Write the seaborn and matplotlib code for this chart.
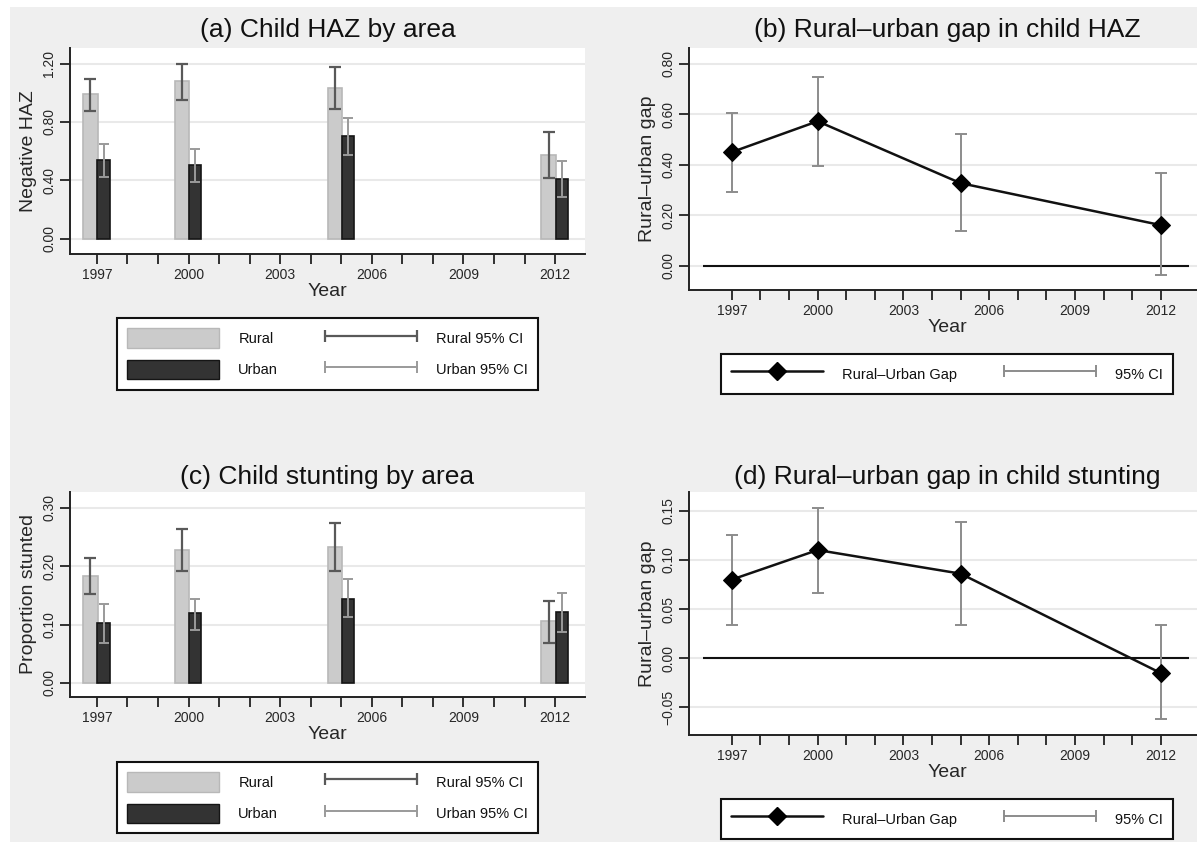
import numpy as np
import pandas as pd
import matplotlib
matplotlib.use("Agg")
import matplotlib.pyplot as plt
import seaborn as sns
from matplotlib.patches import Patch, Rectangle
from matplotlib.lines import Line2D
from matplotlib.legend_handler import HandlerLine2D

# -------------------------------
# Data
# -------------------------------
years = np.array([1997, 2000, 2005, 2012])

haz_rural = [0.990, 1.080, 1.035, 0.575]
haz_rural_lo = [0.875, 0.950, 0.887, 0.416]
haz_rural_hi = [1.095, 1.200, 1.177, 0.729]
haz_urban = [0.537, 0.505, 0.702, 0.409]
haz_urban_lo = [0.425, 0.386, 0.574, 0.283]
haz_urban_hi = [0.647, 0.615, 0.825, 0.533]

stunt_rural = [0.183, 0.227, 0.233, 0.106]
stunt_rural_lo = [0.152, 0.191, 0.191, 0.069]
stunt_rural_hi = [0.214, 0.263, 0.274, 0.141]
stunt_urban = [0.103, 0.119, 0.144, 0.121]
stunt_urban_lo = [0.069, 0.091, 0.113, 0.087]
stunt_urban_hi = [0.136, 0.143, 0.178, 0.154]

haz_gap = [0.450, 0.572, 0.327, 0.161]
haz_gap_lo = [0.293, 0.396, 0.137, -0.038]
haz_gap_hi = [0.606, 0.746, 0.523, 0.366]

stunt_gap = [0.080, 0.110, 0.086, -0.015]
stunt_gap_lo = [0.034, 0.0665, 0.034, -0.062]
stunt_gap_hi = [0.125, 0.153, 0.139, 0.034]

year_ticks = list(range(1997, 2013))
year_labels = [str(y) if (y - 1997) % 3 == 0 else "" for y in year_ticks]

haz_yticks = [0.0, 0.4, 0.8, 1.2]
haz_ylabels = ["0.00", "0.40", "0.80", "1.20"]
stunt_yticks = [0.0, 0.1, 0.2, 0.3]
stunt_ylabels = ["0.00", "0.10", "0.20", "0.30"]
hazgap_yticks = [0.0, 0.2, 0.4, 0.6, 0.8]
hazgap_ylabels = ["0.00", "0.20", "0.40", "0.60", "0.80"]
stuntgap_yticks = [-0.05, 0.0, 0.05, 0.10, 0.15]
stuntgap_ylabels = ["\u22120.05", "0.00", "0.05", "0.10", "0.15"]

# -------------------------------
# Style
# -------------------------------
sns.set_style("white")
plt.rcParams["font.family"] = ["Liberation Sans", "DejaVu Sans"]
plt.rcParams["text.color"] = "#111111"

BG = "#efefef"
RURAL = "#cbcbcb"
RURAL_EDGE = "#b8b8b8"
URBAN = "#333333"
URBAN_EDGE = "#151515"
RURAL_CI = "#595959"
URBAN_CI = "#9a9a9a"
GAP_CI = "#8c8c8c"

W, H = 1197, 842
fig = plt.figure(figsize=(W / 100, H / 100), dpi=100)
fig.patch.set_facecolor("white")
fig.patches.append(Rectangle((10 / W, 0), 1, (H - 7) / H, transform=fig.transFigure,
                             facecolor=BG, edgecolor="none", zorder=-10))


def make_axes(left, top, right, bottom):
    return fig.add_axes([left / W, 1 - bottom / H, (right - left) / W, (bottom - top) / H])


def style_axes(ax, yticks, ylabels, ylim, xlim, ylabel, title, pad):
    ax.set_facecolor("white")
    ax.set_xlim(*xlim)
    ax.set_ylim(*ylim)
    ax.set_xticks(year_ticks)
    ax.set_xticklabels(year_labels, fontsize=10)
    ax.set_yticks(yticks)
    ax.set_yticklabels(ylabels, fontsize=10, rotation=90, va="center")
    ax.tick_params(axis="both", which="major", bottom=True, left=True, length=7,
                   width=1.3, color="#222222", direction="out", pad=3)
    ax.yaxis.grid(True, color="#e9e9e9", lw=1.5)
    ax.xaxis.grid(False)
    ax.set_axisbelow(True)
    for s in ["top", "right"]:
        ax.spines[s].set_visible(False)
    for s in ["left", "bottom"]:
        ax.spines[s].set_color("#222222")
        ax.spines[s].set_linewidth(1.4)
    ax.set_xlabel("Year", fontsize=14, labelpad=1)
    ax.set_ylabel(ylabel, fontsize=14)
    ax.set_title(title, fontsize=19, pad=pad)


def legend_box(ax, handles, labels, anchor_y, ncol, handler_map):
    leg = ax.legend(handles, labels, loc="upper center", bbox_to_anchor=(0.5, anchor_y),
                    ncol=ncol, fontsize=10.5, frameon=True, fancybox=False, framealpha=1,
                    borderaxespad=0, borderpad=0.7, columnspacing=3.2, handletextpad=1.3,
                    handlelength=6.3, handleheight=1.7, labelspacing=0.8,
                    handler_map=handler_map)
    leg.get_frame().set_edgecolor("#111111")
    leg.get_frame().set_linewidth(1.5)
    return leg


def bar_panel(ax, rural, r_lo, r_hi, urban, u_lo, u_hi):
    r_x = years - 0.21
    u_x = years + 0.22
    sns.barplot(x=r_x, y=rural, native_scale=True, orient="x", width=0.47 / 3,
                color=RURAL, edgecolor=RURAL_EDGE, linewidth=1.2, saturation=1,
                errorbar=None, ax=ax)
    sns.barplot(x=u_x, y=urban, native_scale=True, orient="x", width=0.40 / 3,
                color=URBAN, edgecolor=URBAN_EDGE, linewidth=1.2, saturation=1,
                errorbar=None, ax=ax)
    r = np.array(rural)
    u = np.array(urban)
    ax.errorbar(r_x, r, yerr=[r - np.array(r_lo), np.array(r_hi) - r], fmt="none",
                ecolor=RURAL_CI, elinewidth=1.6, capsize=4.3, capthick=1.6, zorder=4)
    ax.errorbar(u_x, u, yerr=[u - np.array(u_lo), np.array(u_hi) - u], fmt="none",
                ecolor=URBAN_CI, elinewidth=1.4, capsize=3.7, capthick=1.4, zorder=4)
    rural_patch = Patch(facecolor=RURAL, edgecolor=RURAL_EDGE)
    urban_patch = Patch(facecolor=URBAN, edgecolor=URBAN_EDGE)
    rural_ci = Line2D([], [], color=RURAL_CI, lw=1.6, marker="|", markersize=9,
                      markeredgewidth=1.6)
    urban_ci = Line2D([], [], color=URBAN_CI, lw=1.4, marker="|", markersize=9,
                      markeredgewidth=1.4)
    hm = {rural_ci: HandlerLine2D(numpoints=2, marker_pad=0),
          urban_ci: HandlerLine2D(numpoints=2, marker_pad=0)}
    return [rural_patch, urban_patch, rural_ci, urban_ci], \
        ["Rural", "Urban", "Rural 95% CI", "Urban 95% CI"], hm


def gap_panel(ax, gap, lo, hi):
    g = np.array(gap)
    ax.hlines(0, 1996, 2013, color="#111111", lw=1.5, zorder=2)
    ax.errorbar(years, g, yerr=[g - np.array(lo), np.array(hi) - g], fmt="none",
                ecolor=GAP_CI, elinewidth=1.4, capsize=4, capthick=1.4, zorder=3)
    df = pd.DataFrame({"Year": years, "gap": gap})
    sns.lineplot(data=df, x="Year", y="gap", color="#111111", lw=1.8, marker="D",
                 markersize=9.5, markeredgecolor="black", markerfacecolor="black",
                 zorder=5, ax=ax)
    gap_h = Line2D([], [], color="#111111", lw=1.8, marker="D", markersize=9.5,
                   markerfacecolor="black", markeredgecolor="black")
    ci_h = Line2D([], [], color=GAP_CI, lw=1.4, marker="|", markersize=9,
                  markeredgewidth=1.4)
    hm = {gap_h: HandlerLine2D(numpoints=1), ci_h: HandlerLine2D(numpoints=2, marker_pad=0)}
    return [gap_h, ci_h], ["Rural\u2013Urban Gap", "95% CI"], hm


# -------------------------------
# (a) Child HAZ by area
# -------------------------------
ax_a = make_axes(70, 48, 585, 254)
h, l, hm = bar_panel(ax_a, haz_rural, haz_rural_lo, haz_rural_hi,
                     haz_urban, haz_urban_lo, haz_urban_hi)
style_axes(ax_a, haz_yticks, haz_ylabels, (-0.105, 1.307), (1996.12, 2012.98),
           "Negative HAZ", "(a) Child HAZ by area", 8)
legend_box(ax_a, h, l, -0.311, 2, hm)

# -------------------------------
# (b) Rural-urban gap in child HAZ
# -------------------------------
ax_b = make_axes(689, 48, 1205, 290)
h, l, hm = gap_panel(ax_b, haz_gap, haz_gap_lo, haz_gap_hi)
style_axes(ax_b, hazgap_yticks, hazgap_ylabels, (-0.096, 0.862), (1995.5, 2013.55),
           "Rural\u2013urban gap", "(b) Rural\u2013urban gap in child HAZ", 8)
legend_box(ax_b, h, l, -0.264, 2, hm)

# -------------------------------
# (c) Child stunting by area
# -------------------------------
ax_c = make_axes(70, 492, 585, 697)
h, l, hm = bar_panel(ax_c, stunt_rural, stunt_rural_lo, stunt_rural_hi,
                     stunt_urban, stunt_urban_lo, stunt_urban_hi)
style_axes(ax_c, stunt_yticks, stunt_ylabels, (-0.024, 0.327), (1996.12, 2012.98),
           "Proportion stunted", "(c) Child stunting by area", 6)
legend_box(ax_c, h, l, -0.317, 2, hm)

# -------------------------------
# (d) Rural-urban gap in child stunting
# -------------------------------
ax_d = make_axes(689, 492, 1205, 735)
h, l, hm = gap_panel(ax_d, stunt_gap, stunt_gap_lo, stunt_gap_hi)
style_axes(ax_d, stuntgap_yticks, stuntgap_ylabels, (-0.078, 0.169), (1995.5, 2013.55),
           "Rural\u2013urban gap", "(d) Rural\u2013urban gap in child stunting", 6)
legend_box(ax_d, h, l, -0.263, 2, hm)

fig.savefig("out.png", dpi=100, facecolor=fig.get_facecolor())
